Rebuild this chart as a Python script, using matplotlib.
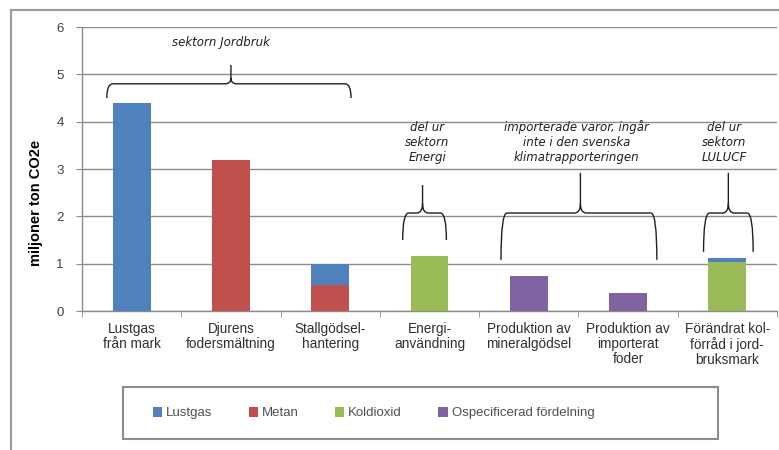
import matplotlib
matplotlib.use("Agg")
import matplotlib.pyplot as plt
from matplotlib.path import Path
from matplotlib.patches import PathPatch, Rectangle, Patch
from matplotlib.lines import Line2D
import numpy as np

plt.rcParams['font.family'] = ['Liberation Sans', 'DejaVu Sans']

categories = ["Lustgas\nfrån mark", "Djurens\nfodersmältning", "Stallgödsel-\nhantering",
              "Energi-\nanvändning", "Produktion av\nmineralgödsel",
              "Produktion av\nimporterat\nfoder", "Förändrat kol-\nförråd i jord-\nbruksmark"]
series_names = ["Lustgas", "Metan", "Koldioxid", "Ospecificerad fördelning"]
# stacking order: Metan, Koldioxid, Ospecificerad at bottom, Lustgas on top
metan = [0.0, 3.2, 0.55, 0.0, 0.0, 0.0, 0.0]
koldioxid = [0.0, 0.0, 0.0, 1.17, 0.0, 0.0, 1.03]
ospecificerad = [0.0, 0.0, 0.0, 0.0, 0.75, 0.37, 0.0]
lustgas = [4.4, 0.0, 0.45, 0.0, 0.0, 0.0, 0.09]
colors = {"Lustgas": "#4F81BD", "Metan": "#C0504D", "Koldioxid": "#9BBB59",
          "Ospecificerad fördelning": "#8064A2"}
yticks = [0, 1, 2, 3, 4, 5, 6]

W, H = 779, 450
fig = plt.figure(figsize=(W / 100, H / 100), dpi=100)
ax = fig.add_axes([82 / W, 1 - 311 / H, (777 - 82) / W, (311 - 27) / H])

x = np.arange(len(categories))
bw = 0.38
bottom = np.zeros(len(categories))
for name, vals in [("Metan", metan), ("Koldioxid", koldioxid),
                   ("Ospecificerad fördelning", ospecificerad), ("Lustgas", lustgas)]:
    v = np.array(vals)
    ax.bar(x, v, bw, bottom=bottom, color=colors[name], zorder=3)
    bottom += v

ax.set_xlim(-0.5, len(categories) - 0.5)
ax.set_ylim(0, 6)
ax.set_yticks(yticks)
ax.set_yticklabels([str(t) for t in yticks], fontsize=9.5, color="#404040")
ax.yaxis.grid(True, color="#8c8c8c", lw=1.0, zorder=0)
ax.set_xticks(x)
ax.set_xticklabels(categories, fontsize=9.8, color="#303030", linespacing=1.1)
ax.set_xticks(np.arange(-0.5, len(categories)), minor=True)
ax.tick_params(axis='x', which='major', length=0, pad=8)
ax.tick_params(axis='x', which='minor', length=4, color="#8c8c8c", direction='out')
ax.tick_params(axis='y', length=4, color="#8c8c8c", pad=9)
for s in ["top", "right"]:
    ax.spines[s].set_visible(False)
for s in ["left", "bottom"]:
    ax.spines[s].set_color("#8c8c8c")
    ax.spines[s].set_linewidth(1.0)
ax.set_ylabel("miljoner ton CO2e", fontsize=10.5, fontweight='bold')
ax.yaxis.set_label_coords(-0.056, 0.38)


def brace(x0, x1, xc, ytip, yh, ystem, rx=0.08, ry=0.2):
    verts = [(x0, ytip), (x0, yh), (x0 + rx, yh), (xc - rx, yh),
             (xc, yh), (xc, yh + ry), (xc, ystem),
             (xc, yh + ry), (xc, yh), (xc + rx, yh), (x1 - rx, yh),
             (x1, yh), (x1, ytip)]
    codes = [Path.MOVETO, Path.CURVE3, Path.CURVE3, Path.LINETO,
             Path.CURVE3, Path.CURVE3, Path.LINETO,
             Path.MOVETO, Path.CURVE3, Path.CURVE3, Path.LINETO,
             Path.CURVE3, Path.CURVE3]
    ax.add_patch(PathPatch(Path(verts, codes), fill=False, lw=1.0,
                           ec="#202020", zorder=4, clip_on=False))


brace(-0.25, 2.21, 1.0, 4.5, 4.8, 5.2, rx=0.06, ry=0.12)
brace(2.73, 3.17, 2.93, 1.5, 2.07, 2.66, rx=0.06, ry=0.2)
brace(3.72, 5.29, 4.52, 1.08, 2.07, 2.92, rx=0.06, ry=0.2)
brace(5.76, 6.26, 6.01, 1.25, 2.07, 2.92, rx=0.06, ry=0.2)

ann_kw = dict(ha='center', va='center', fontsize=8.5, style='italic',
              color="#202020", linespacing=1.2, family='DejaVu Sans')
ax.text(0.9, 5.67, "sektorn Jordbruk", **ann_kw)
ax.text(2.98, 3.57, "del ur\nsektorn\nEnergi", **ann_kw)
ax.text(4.48, 3.57, "importerade varor, ingår\ninte i den svenska\nklimatrapporteringen", **ann_kw)
ax.text(5.97, 3.57, "del ur\nsektorn\nLULUCF", **ann_kw)

# outer chart frame
fig.add_artist(Line2D([11 / W, 11 / W], [0, 1 - 10 / H], transform=fig.transFigure,
                      color="#9a9a9a", lw=1.5))
fig.add_artist(Line2D([11 / W, 1], [1 - 10 / H, 1 - 10 / H], transform=fig.transFigure,
                      color="#9a9a9a", lw=1.5))

# legend box
fig.add_artist(Rectangle((123 / W, 1 - 439 / H), (718 - 123) / W, (439 - 387) / H,
                         transform=fig.transFigure, fill=False, ec="#8c8c8c", lw=1.5))
handles = [Patch(facecolor=colors[n], edgecolor='none') for n in series_names]
fig.legend(handles, series_names, loc='center left', bbox_to_anchor=(141 / W, 1 - 413 / H),
           ncol=4, frameon=False, fontsize=9.5, handlelength=0.7, handleheight=0.8,
           handletextpad=0.3, columnspacing=2.75, labelcolor="#505050")

fig.savefig("out.png", dpi=100)
